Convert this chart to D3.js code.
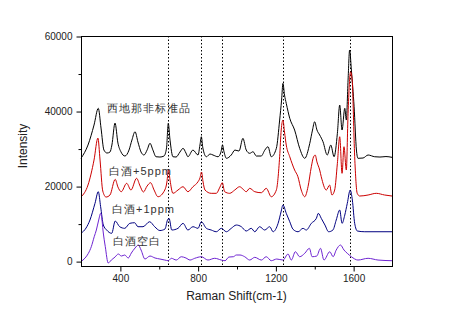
<!DOCTYPE html>
<html><head><meta charset="utf-8">
<script src="https://cdn.jsdelivr.net/npm/d3@7"></script>
<style>
html,body{margin:0;padding:0;background:#fff;}
svg{display:block;}
text{font-family:"Liberation Sans",Arial,sans-serif;}
</style></head>
<body><svg id="c" width="461" height="322"></svg>
<script>
// Raman shift (cm-1) and intensity for each spectrum
const blackX=[200,236,267,289,303,318,334,349,359,375,390,406,426,447,462,478,493,509,524,540,555,570,586,606,627,640,649,658,673,689,709,725,740,750,776,802,812,819,827,845,864,879,905,920,928,936,948,973,992,1013,1033,1050,1068,1085,1102,1127,1146,1162,1179,1205,1222,1232,1239,1247,1256,1274,1299,1325,1351,1377,1391,1402,1414,1428,1445,1467,1485,1502,1519,1531,1543,1557,1565,1574,1582,1591,1605,1617,1625,1651,1677,1711,1738,1769,1800];
const blackY=[27400,30940,36270,40720,35470,29600,28810,29070,30940,36800,31470,29070,28010,29600,32270,34490,31740,29070,28280,29600,31390,29600,27820,27740,28010,30140,36720,32270,27820,27740,29070,30060,28810,27820,29600,28280,30940,33150,30140,27820,28540,28280,27820,29070,30940,29070,27400,28280,29600,29340,32730,29610,28730,29160,28010,28010,29610,30490,27820,30060,37600,42930,47380,44270,42050,38060,34940,30060,27400,31390,34940,37150,34940,33610,31820,28280,30940,27820,34060,41600,34940,40720,37600,48260,56260,50930,41150,29610,27400,27480,28280,27820,27740,27870,27660];

const redX=[200,236,267,287,298,312,329,349,376,390,407,435,457,486,504,521,540,558,576,596,631,642,650,658,673,699,725,750,776,802,812,820,828,838,870,896,915,927,939,965,991,1016,1033,1050,1068,1094,1128,1153,1179,1205,1222,1230,1239,1247,1256,1274,1299,1316,1333,1351,1368,1385,1396,1405,1414,1428,1436,1462,1479,1491,1505,1519,1531,1543,1553,1565,1574,1587,1595,1608,1621,1634,1677,1719,1762,1800];
const redY=[17080,20280,26940,32800,26940,18680,17080,17620,21800,19750,18500,20730,18950,22070,20010,18420,20010,20900,18950,17160,18950,21080,24540,21610,18070,18950,19830,18500,19830,21160,22150,23750,21080,18950,18070,18070,19750,20900,18500,18070,18950,19830,19210,18500,19400,18500,18230,19400,17160,18950,27820,34940,37600,34410,30940,27820,24280,22490,18950,17160,19830,25160,27740,28270,26410,24280,22490,18950,20280,17620,18950,26060,33150,23400,30490,24280,39390,50480,48260,27820,18070,17350,17620,18070,17620,17350];

const navyX=[200,226,246,272,289,301,315,332,358,376,399,425,451,476,493,519,553,579,606,632,645,653,667,699,725,750,776,802,819,845,870,896,922,948,973,999,1025,1050,1076,1094,1119,1145,1171,1188,1214,1229,1239,1256,1274,1291,1317,1342,1359,1385,1411,1421,1436,1455,1474,1496,1513,1531,1543,1557,1570,1585,1596,1608,1622,1660,1728,1800];
const navyY=[7410,8820,10950,15400,18500,14500,9620,8290,7410,10690,9170,8740,10070,10230,9170,9170,10500,9170,8150,8550,10950,11410,8290,8740,10070,8290,9170,8740,10500,8740,8290,7830,8740,7830,8740,9620,9170,8020,8740,7830,9170,8290,9170,7830,10070,13090,14950,12740,10500,8470,7830,8740,8290,10070,11410,12740,11410,9620,7830,8290,10950,13620,10070,12270,15400,18950,16280,10070,8020,7830,7830,7830];

const purpleX=[200,221,238,253,268,279,291,301,308,313,325,340,356,375,392,408,425,443,459,478,495,509,529,555,581,606,631,649,665,690,716,740,761,785,819,853,888,922,941,961,984,999,1018,1042,1068,1094,1128,1153,1179,1207,1239,1265,1282,1303,1325,1351,1375,1389,1413,1432,1450,1480,1497,1513,1535,1553,1570,1591,1625,1677,1728,1800];
const purpleY=[-100,830,2080,3840,6500,8290,10950,12740,10950,8290,3840,-500,290,1090,1890,1360,1630,830,2160,3490,4290,2960,560,1360,830,560,290,110,750,290,1170,830,290,750,1170,290,750,290,110,1090,1170,1630,1630,1170,290,1010,290,1170,110,560,290,1890,290,2510,1170,2080,3410,1170,1360,3410,290,2510,1170,2960,4290,2960,2080,1170,290,750,290,110];

const markerLines=[648,819,927,1237,1583];
const xTicks=[400,800,1200,1600];
const xMinor=[600,1000,1400];
const yTicks=[0,20000,40000,60000];
const yMinor=[10000,30000,50000];
const seriesNames=["西地那非标准品","白酒+5ppm","白酒+1ppm","白酒空白"];
const seriesColors=["#000000","#cc0000","#000080","#6e24d2"];
const labelX=[107,109,112,113];
const labelY=[112,175,213,245];

const svg=d3.select("#c");
const L=81,R=392,T=36,B=266;
const x=d3.scaleLinear().domain([200,1800]).range([L,R]);
const y=d3.scaleLinear().domain([-1300,60000]).range([B,T]);

// marker dotted lines
svg.append("g").selectAll("line").data(markerLines).join("line")
  .attr("x1",d=>Math.round(x(d))+0.5).attr("x2",d=>Math.round(x(d))+0.5)
  .attr("y1",T).attr("y2",B)
  .attr("stroke","#000").attr("stroke-width",1).attr("stroke-dasharray","1.5,2");

const series=[[blackX,blackY],[redX,redY],[navyX,navyY],[purpleX,purpleY]];
const line=d3.line().x(d=>x(d[0])).y(d=>y(d[1])).curve(d3.curveMonotoneX);
series.forEach((s,i)=>{
  const pts=s[0].map((v,j)=>[v,s[1][j]]);
  svg.append("path").attr("d",line(pts)).attr("fill","none")
    .attr("stroke",seriesColors[i]).attr("stroke-width",1);
});

// frame
svg.append("rect").attr("x",L+0.5).attr("y",T+0.5).attr("width",R-L).attr("height",B-T)
  .attr("fill","none").attr("stroke","#000").attr("stroke-width",1);

// axes
svg.append("g").attr("transform",`translate(0.5,${B+0.5})`)
  .call(d3.axisBottom(x).tickValues(xTicks).tickSize(5).tickPadding(3).tickFormat(d3.format("d")));
svg.append("g").attr("transform",`translate(0.5,${B+0.5})`)
  .call(d3.axisBottom(x).tickValues(xMinor).tickSize(3).tickFormat(""));
svg.append("g").attr("transform",`translate(${L+0.5},0.5)`)
  .call(d3.axisLeft(y).tickValues(yTicks).tickSize(5).tickPadding(4).tickFormat(d3.format("d")));
svg.append("g").attr("transform",`translate(${L+0.5},0.5)`)
  .call(d3.axisLeft(y).tickValues(yMinor).tickSize(3).tickFormat(""));
svg.selectAll(".domain").remove();
svg.selectAll(".tick text").attr("font-family","'Liberation Sans',Arial,sans-serif").attr("font-size",10).attr("fill","#222");
svg.selectAll(".tick line").attr("stroke","#000");

// axis titles
svg.append("text").attr("x",(L+R)/2).attr("y",300).attr("text-anchor","middle")
  .attr("font-size",12).attr("fill","#222").text("Raman Shift(cm-1)");
svg.append("text").attr("transform","translate(27,146) rotate(-90)").attr("text-anchor","middle")
  .attr("font-size",12).attr("fill","#222").text("Intensity");

// series labels
svg.append("g").selectAll("text").data(seriesNames).join("text")
  .attr("x",(d,i)=>labelX[i]).attr("y",(d,i)=>labelY[i])
  .attr("font-family","'Noto Sans CJK SC','Liberation Sans',sans-serif")
  .attr("font-size",11).attr("letter-spacing","1px").attr("fill","#333").text(d=>d);
</script></body></html>
